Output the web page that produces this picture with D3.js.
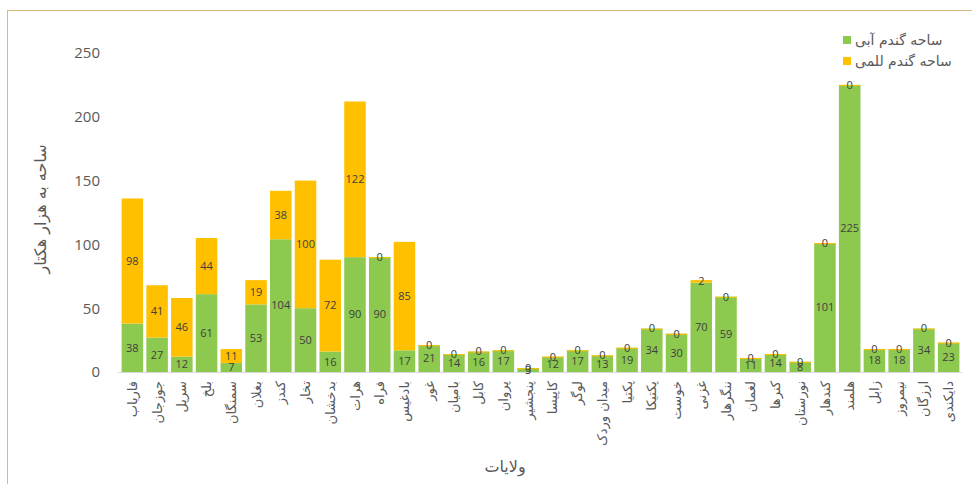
<!DOCTYPE html>
<html>
<head>
<meta charset="utf-8">
<script src="https://cdnjs.cloudflare.com/ajax/libs/d3/7.8.5/d3.min.js"></script>
<style>
  body { margin: 0; background: #fff; }
  text { font-family: "DejaVu Sans", "Noto Sans", sans-serif; }
  text.num { font-family: "Open Sans", "DejaVu Sans", sans-serif; }
</style>
</head>
<body>
<div id="chart"></div>
<script>
var provinces = [ 'فاریاب', 'جوزجان', 'سرپل', 'بلخ', 'سمنگان', 'بغلان', 'کندز', 'تخار',
  'بدخشان', 'هرات', 'فراه', 'بادغیس', 'غور', 'بامیان', 'کابل', 'پروان', 'پنجشیر',
  'کاپیسا', 'لوگر', 'میدان وردک', 'پکتیا', 'پکتیکا', 'خوست', 'غزنی', 'ننگرهار',
  'لغمان', 'کنرها', 'نورستان', 'کندهار', 'هلمند', 'زابل', 'نیمروز', 'ارزگان', 'دایکندی' ];

var irrigated = [ 38, 27, 12, 61, 7, 53, 104, 50, 16, 90, 90, 17, 21, 14, 16, 17, 3,
  12, 17, 13, 19, 34, 30, 70, 59, 11, 14, 8, 101, 225, 18, 18, 34, 23 ];

var rainfed = [ 98, 41, 46, 44, 11, 19, 38, 100, 72, 122, 0, 85, 0, 0, 0, 0, 0,
  0, 0, 0, 0, 0, 0, 2, 0, 0, 0, 0, 0, 0, 0, 0, 0, 0 ];

var yTicks = [ 0, 50, 100, 150, 200, 250 ];

var seriesNames = [ 'ساحه گندم آبی', 'ساحه گندم للمی' ];
var colors = [ '#8dc84f', '#ffc000' ];

var width = 972, height = 484;

var svg = d3.select( '#chart' )
  .append( 'svg' )
    .attr( 'width', width )
    .attr( 'height', height );

// chart frame
svg.append( 'rect' )
  .attr( 'x', 7.5 ).attr( 'y', 10.5 )
  .attr( 'width', width - 4 ).attr( 'height', height )
  .attr( 'fill', 'none' )
  .attr( 'stroke', '#d8b87c' );

var x = d3.scaleBand()
  .domain( provinces )
  .range( [ 120, 961 ] )
  .paddingInner( 0.13 )
  .paddingOuter( 0.065 );

var y = d3.scaleLinear()
  .domain( [ 0, 250 ] )
  .range( [ 372, 53 ] );

var rows = provinces.map( function( p, i ) {
  return { name: p, a: irrigated[i], b: rainfed[i] };
} );

// y tick labels (no gridlines)
svg.append( 'g' )
  .attr( 'transform', 'translate(100,0)' )
  .call( d3.axisLeft( y ).tickValues( yTicks ).tickSize( 0 ).tickPadding( 0 ) )
  .call( function( g ) { g.select( '.domain' ).remove(); } )
  .selectAll( 'text' )
    .attr( 'class', 'num' )
    .attr( 'fill', '#595959' )
    .style( 'font-size', '15px' );

// baseline
svg.append( 'line' )
  .attr( 'x1', 118 ).attr( 'x2', 962 )
  .attr( 'y1', y( 0 ) + 0.5 ).attr( 'y2', y( 0 ) + 0.5 )
  .attr( 'stroke', '#d9d9d9' );

// green segments
svg.selectAll( 'rect.irr' )
  .data( rows )
  .enter().append( 'rect' )
    .attr( 'class', 'irr' )
    .attr( 'x', function( d ) { return x( d.name ); } )
    .attr( 'width', x.bandwidth() )
    .attr( 'y', function( d ) { return y( d.a ); } )
    .attr( 'height', function( d ) { return y( 0 ) - y( d.a ); } )
    .attr( 'fill', colors[0] );

// yellow segments
svg.selectAll( 'rect.rain' )
  .data( rows )
  .enter().append( 'rect' )
    .attr( 'class', 'rain' )
    .attr( 'x', function( d ) { return x( d.name ); } )
    .attr( 'width', x.bandwidth() )
    .attr( 'y', function( d ) { return y( d.a + d.b ); } )
    .attr( 'height', function( d ) { return Math.max( y( d.a ) - y( d.a + d.b ), 1 ); } )
    .attr( 'fill', colors[1] );

// value labels
svg.selectAll( 'text.lblA' )
  .data( rows )
  .enter().append( 'text' )
    .attr( 'class', 'num lblA' )
    .attr( 'x', function( d ) { return x( d.name ) + x.bandwidth() / 2; } )
    .attr( 'y', function( d ) { return ( y( 0 ) + y( d.a ) ) / 2; } )
    .attr( 'dy', '0.35em' )
    .attr( 'text-anchor', 'middle' )
    .attr( 'fill', '#404040' )
    .style( 'font-size', '11px' )
    .text( function( d ) { return d.a; } );

svg.selectAll( 'text.lblB' )
  .data( rows )
  .enter().append( 'text' )
    .attr( 'class', 'num lblB' )
    .attr( 'x', function( d ) { return x( d.name ) + x.bandwidth() / 2; } )
    .attr( 'y', function( d ) { return ( y( d.a ) + y( d.a + d.b ) ) / 2; } )
    .attr( 'dy', '0.35em' )
    .attr( 'text-anchor', 'middle' )
    .attr( 'fill', '#404040' )
    .style( 'font-size', '11px' )
    .text( function( d ) { return d.b; } );

// province labels, rotated
svg.selectAll( 'text.cat' )
  .data( provinces )
  .enter().append( 'text' )
    .attr( 'class', 'cat' )
    .attr( 'transform', function( d ) {
      return 'translate(' + ( x( d ) + x.bandwidth() / 2 ) + ',381) rotate(-90)';
    } )
    .attr( 'dy', '0.35em' )
    .attr( 'text-anchor', 'end' )
    .attr( 'fill', '#595959' )
    .style( 'font-size', '13px' )
    .text( function( d ) { return d; } );

// axis titles
svg.append( 'text' )
  .attr( 'transform', 'translate(40,209) rotate(-90)' )
  .attr( 'text-anchor', 'middle' )
  .attr( 'dy', '0.35em' )
  .attr( 'fill', '#595959' )
  .style( 'font-size', '16px' )
  .text( 'ساحه به هزار هکتار' );

svg.append( 'text' )
  .attr( 'x', 505 ).attr( 'y', 466 )
  .attr( 'text-anchor', 'middle' )
  .attr( 'dy', '0.35em' )
  .attr( 'fill', '#595959' )
  .style( 'font-size', '16px' )
  .text( 'ولایات' );

// legend
seriesNames.forEach( function( name, i ) {
  var ly = 40 + i * 21;
  svg.append( 'rect' )
    .attr( 'x', 843 ).attr( 'y', ly - 4 )
    .attr( 'width', 8 ).attr( 'height', 8 )
    .attr( 'fill', colors[i] );
  svg.append( 'text' )
    .attr( 'x', 855 ).attr( 'y', ly )
    .attr( 'dy', '0.35em' )
    .attr( 'text-anchor', 'start' )
    .attr( 'fill', '#595959' )
    .style( 'font-size', '14px' )
    .text( name );
} );
</script>
</body>
</html>
